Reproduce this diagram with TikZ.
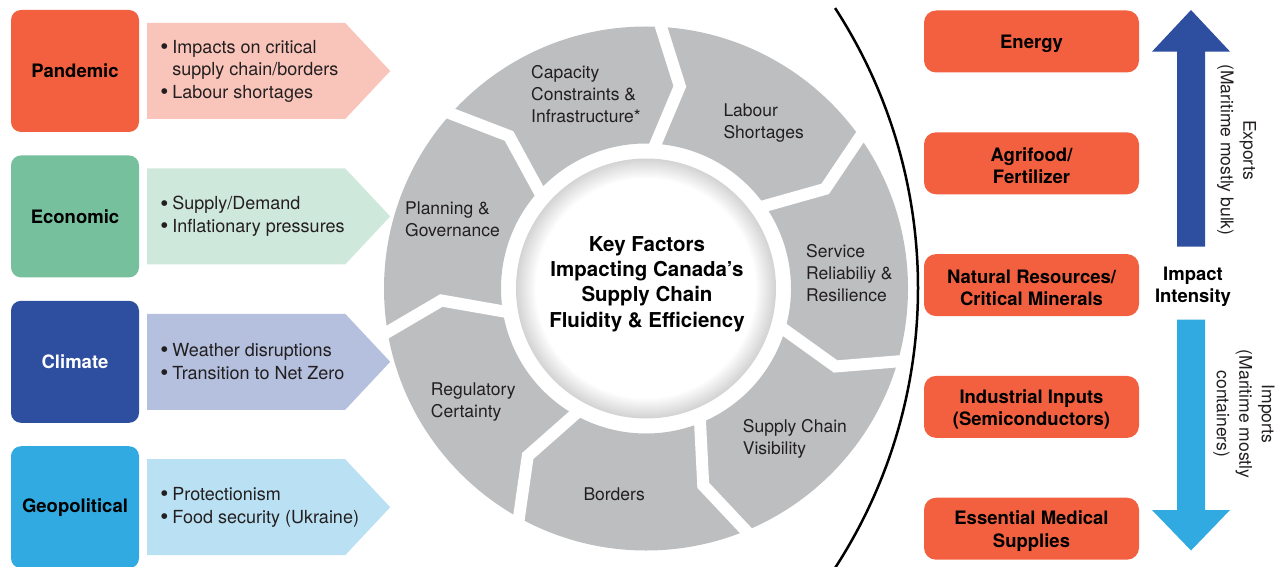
\documentclass[tikz,border=0pt]{standalone}
\usepackage{fontspec}
\setmainfont{TeX Gyre Heros}
\usetikzlibrary{positioning}
\definecolor{pandemicred}{RGB}{242,96,64}
\definecolor{pandemiclight}{RGB}{249,197,186}
\definecolor{econgreen}{RGB}{118,192,157}
\definecolor{econlight}{RGB}{207,232,220}
\definecolor{climateblue}{RGB}{46,78,160}
\definecolor{climatelight}{RGB}{180,192,222}
\definecolor{geoblue}{RGB}{48,170,225}
\definecolor{geolight}{RGB}{185,225,243}
\definecolor{ringgrey}{RGB}{188,190,192}
\definecolor{textgrey}{RGB}{35,31,32}
\newcommand{\itm}{\makebox[12pt][l]{\raisebox{-1.2pt}{\fontsize{23}{22}\selectfont\textbullet}}}
\newcommand{\cont}{\hspace*{12pt}}
\newcommand{\tp}{\rule{0pt}{19pt}}
\begin{document}
\begin{tikzpicture}[
x=1pt, y=1pt,
factor/.style={rectangle, rounded corners=10pt, minimum width=128pt, minimum height=122pt, inner sep=0pt, font=\bfseries\fontsize{18.5}{22.5}\selectfont},
bulletlist/.style={align=left, inner sep=0pt, text=textgrey, font=\fontsize{18}{22.5}\selectfont},
sectorbox/.style={rectangle, rounded corners=12pt, fill=pandemicred, minimum width=215pt, minimum height=62pt, inner sep=0pt, align=center, font=\bfseries\fontsize{18.5}{22.5}\selectfont},
sectorlabel/.style={anchor=north west, align=left, inner sep=0pt, text=textgrey, font=\fontsize{17.5}{22}\selectfont},
hubtext/.style={align=center, inner sep=0pt, font=\bfseries\fontsize{20.5}{25.3}\selectfont},
flowtext/.style={rotate=-90, align=center, inner sep=0pt, text=textgrey, font=\fontsize{17.5}{22.5}\selectfont},
seamline/.style={white, line width=12pt, line cap=butt, line join=miter},
]
\useasboundingbox (0,0) rectangle (1281,566);
\begin{scope}[shift={(646,277.5)}]
\fill[ringgrey, even odd rule] (0,0) circle[radius=262] (0,0) circle[radius=145];
\foreach \k in {0,...,6}{
  \pgfmathsetmacro{\b}{87.5-\k*360/7}
  \draw[seamline] (\b:272) -- ({\b-7}:205) -- (\b:136);
}
\foreach \i in {0,...,20}{
  \pgfmathsetmacro{\shd}{17-0.85*\i}
  \fill[black!\shd] (0,0) circle[radius=130-\i];
}
\fill[white] (0,0) circle[radius=110];
\end{scope}
\node (capacity) [sectorlabel] at (531,500.4) {Capacity\\Constraints \&\\Infrastructure*};
\node (labour) [sectorlabel] at (723.3,462.7) {Labour\\Shortages};
\node (service) [sectorlabel] at (806,322) {Service\\Reliabiliy \&\\Resilience};
\node (visibility) [sectorlabel] at (742.7,147) {Supply Chain\\Visibility};
\node (borders) [sectorlabel] at (583.3,78.7) {Borders};
\node (regulatory) [sectorlabel] at (430.7,183) {Regulatory\\Certainty};
\node (planning) [sectorlabel] at (405,364.7) {Planning \&\\Governance};
\node (hub) [hubtext] at (647,282) {Key Factors\\Impacting Canada’s\\Supply Chain\\Fluidity \& Efficiency};
\draw[line width=2.5pt] (404,278) ++(33:514) arc[start angle=33, end angle=-33, radius=514];
\node (pandemic) [factor, fill=pandemicred] at (75,495) {Pandemic};
\node (economic) [factor, fill=econgreen, below=23pt of pandemic] {Economic};
\node (climate) [factor, fill=climateblue, text=white, below=23pt of economic] {Climate};
\node (geopolitical) [factor, fill=geoblue, below=23pt of climate] {Geopolitical};
\foreach \n/\c in {pandemic/pandemiclight, economic/econlight, climate/climatelight, geopolitical/geolight}
  \fill[\c] ([xshift=8pt,yshift=-48pt]\n.east) -- ++(198,0) -- ++(45,48) -- ++(-45,48) -- ++(-198,0) -- cycle;
\node (pandemic-list) [bulletlist, right=21pt of pandemic] {\itm Impacts on critical\\\cont supply chain/borders\\\itm Labour shortages};
\node (economic-list) [bulletlist, right=21pt of economic] {\itm Supply/Demand\\\itm Inflationary pressures};
\node (climate-list) [bulletlist, right=21pt of climate] {\itm Weather disruptions\\\itm Transition to Net Zero};
\node (geopolitical-list) [bulletlist, right=21pt of geopolitical] {\itm Protectionism\\\itm Food security (Ukraine)};
\node (energy) [sectorbox] at (1031.5,524.5) {\tp Energy};
\node (agrifood) [sectorbox, below=59.4pt of energy] {\tp Agrifood/\\Fertilizer};
\node (resources) [sectorbox, below=59.4pt of agrifood] {\tp Natural Resources/\\Critical Minerals};
\node (inputs) [sectorbox, below=59.4pt of resources] {\tp Industrial Inputs\\(Semiconductors)};
\node (medical) [sectorbox, below=59.4pt of inputs] {\tp Essential Medical\\Supplies};
\fill[climateblue] (1177,319.4) -- (1177,514.4) -- (1152,514.4) -- (1191,556) -- (1230,514.4) -- (1205,514.4) -- (1205,319.4) -- cycle;
\fill[geoblue] (1177,246.5) -- (1177,56) -- (1152,56) -- (1191,15.5) -- (1230,56) -- (1205,56) -- (1205,246.5) -- cycle;
\node (impact) [align=center, inner sep=0pt, font=\bfseries\fontsize{18.5}{22.5}\selectfont] at (1193,279) {Impact\\Intensity};
\node (exports) [flowtext] at (1236.5,416) {Exports\\(Maritime mostly bulk)};
\node (imports) [flowtext] at (1244,152) {Imports\\(Maritime mostly\\containers)};
\end{tikzpicture}
\end{document}
